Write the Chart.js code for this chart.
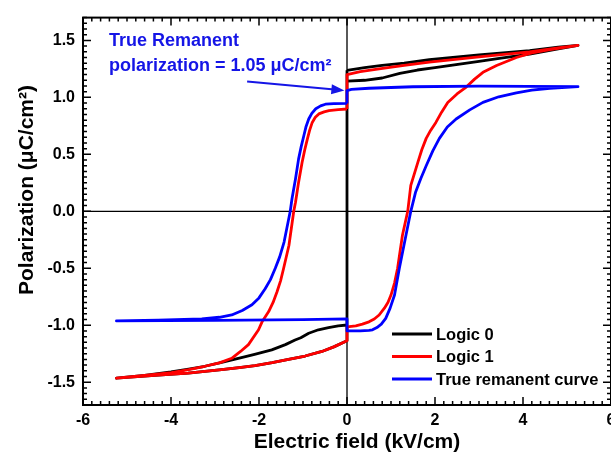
<!DOCTYPE html>
<html lang="en">
<head>
<meta charset="UTF-8">
<title>P-E loops</title>
<script src="https://cdn.jsdelivr.net/npm/chart.js"></script>
<style>
  html, body { margin: 0; padding: 0; overflow: hidden; background: #fff; }
  #wrap { width: 630px; height: 452px; }
</style>
</head>
<body>
<div id="wrap"><canvas id="peChart" width="630" height="452"></canvas></div>
<script>
const xTicks = [-6, -4, -2, 0, 2, 4, 6];
const yTicks = [-1.5, -1.0, -0.5, 0.0, 0.5, 1.0, 1.5];
const seriesNames = ['Logic 0', 'Logic 1', 'True remanent curve'];
const seriesColors = ['#000000', '#ff0000', '#0000ff'];

// Logic 0: upper-right pair, jump at E=0, lower-left pair
const logic0E = [0, 0.4, 0.8, 1.3, 1.87, 3, 4.15, 4.8, 5.25,
  4.8, 4.15, 3.5, 3, 2, 1.6, 1.2, 0.8, 0.4, 0,
  0, -0.2, -0.42, -0.65, -0.87, -1.05, -1.18, -1.4, -1.71, -2.1, -2.47, -2.85, -3.23, -3.6, -4.0, -4.6, -5.24,
  -4.37, -3.61, -3.23, -2.85, -2.45, -2.09, -1.7, -1.33, -0.95, -0.57, -0.3, 0, 0];
const logic0P = [1.237, 1.26, 1.28, 1.30, 1.33, 1.372, 1.41, 1.44, 1.457,
  1.425, 1.38, 1.345, 1.315, 1.26, 1.24, 1.21, 1.17, 1.15, 1.143,
  -0.998, -1.005, -1.02, -1.04, -1.07, -1.11, -1.13, -1.17, -1.216, -1.255, -1.29, -1.325, -1.36, -1.385, -1.41, -1.44, -1.465,
  -1.44, -1.42, -1.405, -1.39, -1.372, -1.354, -1.328, -1.30, -1.27, -1.23, -1.19, -1.137, 1.237];

// Logic 1: full loop
const logic1E = [0, 0, 0.3, 0.73, 1.3, 1.87, 3, 4.15, 4.8, 5.25,
  4.61, 4.2, 3.85, 3.4, 3.09, 2.9, 2.71, 2.5, 2.29, 2.15, 2.02, 1.90, 1.80, 1.70, 1.61, 1.45, 1.38, 1.26, 1.15, 1.08, 1.00, 0.93, 0.85, 0.73, 0.62, 0.5, 0.35, 0.2, 0,
  0, -0.3, -0.57, -0.95, -1.33, -1.7, -2.09, -2.45, -2.85, -3.23, -3.61, -4.37, -5.24,
  -4.6, -3.99, -3.6, -3.23, -2.9, -2.62, -2.42, -2.24, -2.01, -1.93, -1.78, -1.68, -1.59, -1.51, -1.44, -1.32, -1.21, -1.17, -1.10, -1.02, -0.96, -0.90, -0.85, -0.79, -0.72, -0.64, -0.52, -0.41, -0.2, 0];
const logic1P = [0.898, 1.20, 1.225, 1.25, 1.28, 1.31, 1.355, 1.40, 1.435, 1.457,
  1.42, 1.39, 1.35, 1.28, 1.22, 1.16, 1.09, 1.03, 0.955, 0.87, 0.78, 0.71, 0.64, 0.54, 0.43, 0.227, 0, -0.21, -0.50, -0.63, -0.735, -0.80, -0.85, -0.91, -0.945, -0.97, -0.99, -1.005, -1.015,
  -1.137, -1.19, -1.23, -1.27, -1.30, -1.328, -1.354, -1.372, -1.39, -1.405, -1.42, -1.44, -1.465,
  -1.44, -1.415, -1.39, -1.36, -1.33, -1.29, -1.23, -1.17, -1.04, -0.97, -0.88, -0.80, -0.706, -0.61, -0.50, -0.30, 0, 0.08, 0.256, 0.43, 0.54, 0.635, 0.71, 0.78, 0.825, 0.855, 0.873, 0.884, 0.892, 0.898];

// True remanent curve
const trueE = [0, 0, 0.1, 0.5, 1.5, 3, 5.25,
  4.61, 4.2, 3.85, 3.45, 3.09, 2.79, 2.48, 2.28, 2.10, 1.95, 1.80, 1.68, 1.56, 1.45, 1.34, 1.19, 1.08, 0.98, 0.88, 0.78, 0.68, 0.58, 0.5, 0.3, 0,
  0, -1, -3, -5.24,
  -4.29, -3.30, -2.9, -2.62, -2.38, -2.16, -2.0, -1.86, -1.74, -1.63, -1.53, -1.43, -1.29, -1.25, -1.17, -1.10, -1.04, -0.98, -0.93, -0.87, -0.80, -0.71, -0.60, -0.49, -0.3, 0];
const trueP = [0.947, 1.06, 1.07, 1.08, 1.093, 1.098, 1.094,
  1.08, 1.063, 1.04, 1.005, 0.956, 0.89, 0.81, 0.74, 0.64, 0.53, 0.40, 0.29, 0.17, 0, -0.21, -0.50, -0.735, -0.85, -0.94, -0.99, -1.02, -1.04, -1.045, -1.05, -1.05,
  -0.945, -0.95, -0.957, -0.962,
  -0.955, -0.945, -0.93, -0.91, -0.87, -0.82, -0.76, -0.68, -0.60, -0.50, -0.40, -0.27, 0, 0.11, 0.285, 0.46, 0.57, 0.665, 0.745, 0.81, 0.86, 0.90, 0.925, 0.94, 0.945, 0.947];

const FONT = 'Arial, "Liberation Sans", Helvetica, sans-serif';
const toPts = (xs, ys) => xs.map((v, i) => ({ x: v, y: ys[i] }));

const decor = {
  id: 'decor',
  beforeDatasetsDraw(chart) {
    const { ctx, chartArea: a, scales: { x, y } } = chart;
    const x0 = x.getPixelForValue(0), y0 = y.getPixelForValue(0);
    ctx.save();
    ctx.strokeStyle = '#000';
    ctx.lineWidth = 1.3;
    ctx.beginPath();
    ctx.moveTo(a.left, y0); ctx.lineTo(a.right, y0);
    ctx.moveTo(x0, a.top); ctx.lineTo(x0, a.bottom);
    ctx.stroke();
    ctx.restore();
  },
  afterDraw(chart) {
    const { ctx, chartArea: a, scales: { x, y } } = chart;
    ctx.save();
    // frame
    ctx.strokeStyle = '#000';
    ctx.lineWidth = 2;
    ctx.strokeRect(a.left, a.top, a.right - a.left, a.bottom - a.top);
    // inward ticks on all four sides
    ctx.lineWidth = 1.5;
    ctx.beginPath();
    for (let i = -30; i <= 30; i++) {
      const px = x.getPixelForValue(i * 0.2);
      const len = i % 10 === 0 ? 8 : 4;
      ctx.moveTo(px, a.bottom); ctx.lineTo(px, a.bottom - len);
      ctx.moveTo(px, a.top); ctx.lineTo(px, a.top + len);
    }
    for (let i = -34; i <= 34; i++) {
      const py = y.getPixelForValue(i * 0.05);
      const len = i % 10 === 0 ? 8 : 4;
      ctx.moveTo(a.left, py); ctx.lineTo(a.left + len, py);
      ctx.moveTo(a.right, py); ctx.lineTo(a.right - len, py);
    }
    ctx.stroke();

    // axis titles
    ctx.fillStyle = '#000';
    ctx.font = 'bold 21px ' + FONT;
    ctx.textAlign = 'center';
    ctx.textBaseline = 'alphabetic';
    ctx.fillText('Electric field (kV/cm)', 357, 448);
    ctx.save();
    ctx.translate(33, 190);
    ctx.rotate(-Math.PI / 2);
    ctx.fillText('Polarization (\u03BCC/cm\u00B2)', 0, 0);
    ctx.restore();

    // annotation
    ctx.fillStyle = '#1515e6';
    ctx.strokeStyle = '#1515e6';
    ctx.font = 'bold 18px ' + FONT;
    ctx.textAlign = 'left';
    ctx.fillText('True Remanent', 109, 46);
    ctx.fillText('polarization = 1.05 \u03BCC/cm\u00B2', 109, 71);
    const ax0 = x.getPixelForValue(-2.27), ay0 = y.getPixelForValue(1.14);
    const ax1 = x.getPixelForValue(-0.06), ay1 = y.getPixelForValue(1.06);
    const ang = Math.atan2(ay1 - ay0, ax1 - ax0);
    ctx.lineWidth = 2;
    ctx.beginPath();
    ctx.moveTo(ax0, ay0);
    ctx.lineTo(ax1 - 10 * Math.cos(ang), ay1 - 10 * Math.sin(ang));
    ctx.stroke();
    ctx.beginPath();
    ctx.moveTo(ax1, ay1);
    ctx.lineTo(ax1 - 13 * Math.cos(ang) + 5 * Math.sin(ang), ay1 - 13 * Math.sin(ang) - 5 * Math.cos(ang));
    ctx.lineTo(ax1 - 13 * Math.cos(ang) - 5 * Math.sin(ang), ay1 - 13 * Math.sin(ang) + 5 * Math.cos(ang));
    ctx.closePath();
    ctx.fill();

    // legend
    ctx.font = 'bold 16.5px ' + FONT;
    ctx.textBaseline = 'middle';
    chart.data.datasets.forEach((ds, i) => {
      const ly = 334 + i * 22.5;
      ctx.strokeStyle = ds.borderColor;
      ctx.lineWidth = 3;
      ctx.beginPath();
      ctx.moveTo(392, ly); ctx.lineTo(432, ly);
      ctx.stroke();
      ctx.fillStyle = '#000';
      ctx.fillText(ds.label, 436, ly + 1);
    });
    ctx.restore();
  }
};

new Chart(document.getElementById('peChart'), {
  type: 'scatter',
  data: {
    datasets: [
      { label: seriesNames[0], data: toPts(logic0E, logic0P), borderColor: seriesColors[0], order: 3 },
      { label: seriesNames[1], data: toPts(logic1E, logic1P), borderColor: seriesColors[1], order: 2 },
      { label: seriesNames[2], data: toPts(trueE, trueP), borderColor: seriesColors[2], order: 1 }
    ].map(d => Object.assign(d, { showLine: true, pointRadius: 0, borderWidth: 2.8, tension: 0, borderJoinStyle: 'round', fill: false }))
  },
  options: {
    responsive: false,
    animation: false,
    layout: { padding: { top: 15, right: 19, left: 0, bottom: 0 } },
    plugins: { legend: { display: false }, tooltip: { enabled: false } },
    scales: {
      x: {
        type: 'linear', min: -6, max: 6,
        grid: { display: false, drawTicks: false }, border: { display: false },
        afterBuildTicks: s => { s.ticks = xTicks.map(v => ({ value: v })); },
        afterFit: s => { s.height = 47; },
        ticks: { padding: 6, color: '#000', font: { family: FONT, size: 16, weight: 'bold' }, callback: v => String(v) }
      },
      y: {
        type: 'linear', min: -1.7, max: 1.7,
        grid: { display: false, drawTicks: false }, border: { display: false },
        afterBuildTicks: s => { s.ticks = yTicks.map(v => ({ value: v })); },
        afterFit: s => { s.width = 83; },
        ticks: { padding: 8, color: '#000', font: { family: FONT, size: 16, weight: 'bold' }, callback: v => Number(v).toFixed(1) }
      }
    }
  },
  plugins: [decor]
});
</script>
</body>
</html>
